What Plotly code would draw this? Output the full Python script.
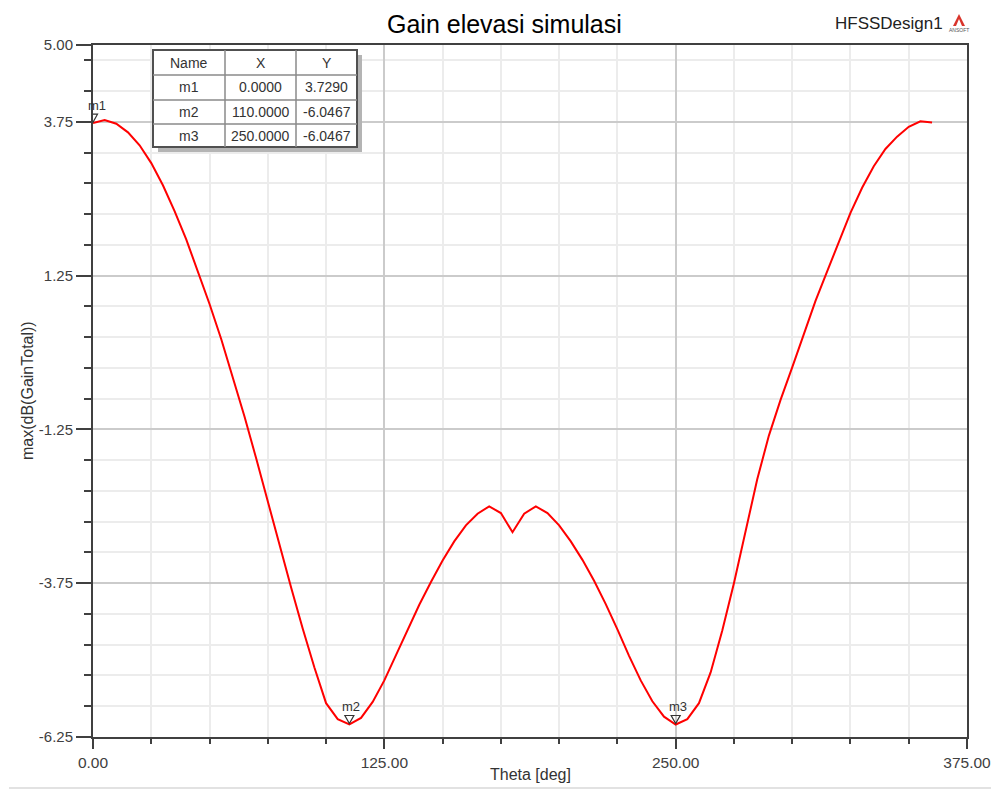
import plotly.graph_objects as go

# ---------------- data ----------------
theta_deg = list(range(0, 361, 5))
gain_db = [
    3.73, 3.78, 3.72, 3.58, 3.37, 3.08, 2.72, 2.30, 1.84, 1.33,          # 0..45
    0.79, 0.22, -0.39, -1.04, -1.72, -2.43, -3.13, -3.82, -4.49, -5.12,  # 50..95
    -5.70, -5.96, -6.0467, -5.94, -5.68, -5.33, -4.92, -4.50, -4.10, -3.73,  # 100..145
    -3.38, -3.07, -2.81, -2.62, -2.50, -2.61, -2.92, -2.62, -2.50, -2.61,  # 150..195
    -2.81, -3.07, -3.37, -3.71, -4.09, -4.50, -4.93, -5.33, -5.67, -5.92,  # 200..245
    -6.0467, -5.96, -5.70, -5.20, -4.52, -3.75, -2.92, -2.06, -1.35, -0.77,  # 250..295
    -0.24, 0.31, 0.84, 1.32, 1.79, 2.27, 2.68, 3.03, 3.31, 3.51,          # 300..345
    3.67, 3.76, 3.74,                                                      # 350..360
]

marker_names = ["m1", "m2", "m3"]
marker_x = [0.0, 110.0, 250.0]
marker_y = [3.7290, -6.0467, -6.0467]

x_tickvals = [0, 125, 250, 375]
x_ticktext = ["0.00", "125.00", "250.00", "375.00"]
y_tickvals = [-6.25, -3.75, -1.25, 1.25, 3.75, 5.00]
y_ticktext = ["-6.25", "-3.75", "-1.25", "1.25", "3.75", "5.00"]

title_text = "Gain elevasi simulasi"
design_text = "HFSSDesign1"
x_title = "Theta [deg]"
y_title = "max(dB(GainTotal))"

# ---------------- layout helpers (pixel -> paper) ----------------
W, H = 991, 790
L, R, T, B = 93, 967, 45, 737


def px(x):
    return (x - L) / (R - L)


def py(y):
    return (B - y) / (B - T)


FONT = "Liberation Sans, Arial, sans-serif"
AXC = "#404040"

fig = go.Figure()
fig.add_trace(go.Scatter(
    x=theta_deg, y=gain_db, mode="lines",
    line=dict(color="#ff0000", width=2),
    hoverinfo="x+y", showlegend=False,
))

shapes = []
annotations = []

# marker triangles + labels
for name, mx, my in zip(marker_names, marker_x, marker_y):
    shapes.append(dict(
        type="path", xref="x", yref="y", xsizemode="pixel", ysizemode="pixel",
        xanchor=mx, yanchor=my, path="M -4.5,9 L 4.5,9 L 0,1 Z",
        line=dict(color="#333333", width=1.2), fillcolor="rgba(0,0,0,0)",
    ))
    annotations.append(dict(
        x=mx, y=my, xref="x", yref="y", text=name, showarrow=False,
        yshift=18, xshift=4 if mx == 0 else 2,
        font=dict(family=FONT, size=13, color="#333333"),
    ))

# marker table
tx0, tx1, ty0, ty1 = 153, 357, 50, 147
col_edges = [153, 225, 296, 357]
row_edges = [50, 75, 100, 124, 147]
shapes.append(dict(type="rect", xref="paper", yref="paper",
                   x0=px(tx0 + 5), x1=px(tx1 + 5), y0=py(ty0 + 5), y1=py(ty1 + 5),
                   fillcolor="#b4b4b4", line=dict(width=0), layer="above"))
shapes.append(dict(type="rect", xref="paper", yref="paper",
                   x0=px(tx0), x1=px(tx1), y0=py(ty0), y1=py(ty1),
                   fillcolor="#ffffff", line=dict(color="#505050", width=2), layer="above"))
for cx in col_edges[1:-1]:
    shapes.append(dict(type="line", xref="paper", yref="paper",
                       x0=px(cx), x1=px(cx), y0=py(ty0), y1=py(ty1),
                       line=dict(color="#8a8a8a", width=1.5), layer="above"))
for ry in row_edges[1:-1]:
    shapes.append(dict(type="line", xref="paper", yref="paper",
                       x0=px(tx0), x1=px(tx1), y0=py(ry), y1=py(ry),
                       line=dict(color="#8a8a8a", width=1.5), layer="above"))

table_rows = [["Name", "X", "Y"]] + [
    [n, f"{x:.4f}", f"{y:.4f}"] for n, x, y in zip(marker_names, marker_x, marker_y)
]
for ri, row in enumerate(table_rows):
    cy = (row_edges[ri] + row_edges[ri + 1]) / 2
    for ci, cell in enumerate(row):
        cx = (col_edges[ci] + col_edges[ci + 1]) / 2
        annotations.append(dict(
            x=px(cx), y=py(cy), xref="paper", yref="paper", text=cell,
            showarrow=False, xanchor="center", yanchor="middle",
            font=dict(family=FONT, size=14, color="#333333"),
        ))

# titles
annotations.append(dict(x=px(504), y=py(24), xref="paper", yref="paper", text=title_text,
                        showarrow=False, xanchor="center", yanchor="middle",
                        font=dict(family=FONT, size=25, color="#000000")))
annotations.append(dict(x=px(833), y=py(23), xref="paper", yref="paper", text=design_text,
                        showarrow=False, xanchor="left", yanchor="middle",
                        font=dict(family=FONT, size=17, color="#222222")))
annotations.append(dict(x=px(530), y=py(774), xref="paper", yref="paper", text=x_title,
                        showarrow=False, xanchor="center", yanchor="middle",
                        font=dict(family=FONT, size=16, color="#333333")))
annotations.append(dict(x=px(27), y=py(391), xref="paper", yref="paper", text=y_title,
                        showarrow=False, xanchor="center", yanchor="middle", textangle=-90,
                        font=dict(family=FONT, size=16, color="#333333")))

# small logo
shapes.append(dict(type="path", xref="paper", yref="paper",
                   path=f"M {px(959)},{py(14)} L {px(953)},{py(26)} L {px(965)},{py(26)} Z",
                   fillcolor="#d9342b", line=dict(width=0)))
shapes.append(dict(type="path", xref="paper", yref="paper",
                   path=f"M {px(959)},{py(19)} L {px(956)},{py(26)} L {px(962)},{py(26)} Z",
                   fillcolor="#ffffff", line=dict(width=0)))
annotations.append(dict(x=px(959), y=py(30), xref="paper", yref="paper", text="ANSOFT",
                        showarrow=False, xanchor="center", yanchor="middle",
                        font=dict(family=FONT, size=5, color="#555555")))

# light screenshot border line at bottom
shapes.append(dict(type="line", xref="paper", yref="paper",
                   x0=px(9), x1=px(991), y0=py(788), y1=py(788),
                   line=dict(color="#e2e2e2", width=2)))

fig.update_layout(
    width=W, height=H,
    margin=dict(l=L, r=W - R, t=T, b=H - B, pad=0, autoexpand=False),
    paper_bgcolor="#ffffff", plot_bgcolor="#ffffff",
    showlegend=False,
    shapes=shapes, annotations=annotations,
    font=dict(family=FONT, size=15, color=AXC),
)
fig.update_xaxes(
    range=[0, 375], tickmode="array", tickvals=x_tickvals, ticktext=x_ticktext,
    automargin=False, ticklabeloverflow="allow",
    ticks="outside", ticklen=10, tickwidth=2, tickcolor=AXC,
    showline=True, linecolor=AXC, linewidth=2, mirror=True,
    showgrid=True, gridcolor="#cbcbcb", gridwidth=2, zeroline=False,
    tickfont=dict(family=FONT, size=15.5, color="#404040"),
    minor=dict(tick0=0, dtick=25, ticks="outside", ticklen=5, tickwidth=2, tickcolor=AXC,
               showgrid=True, gridcolor="#ececec", gridwidth=2),
)
fig.update_yaxes(
    range=[-6.25, 5.0], tickmode="array", tickvals=y_tickvals, ticktext=y_ticktext,
    automargin=False, ticklabeloverflow="allow",
    ticks="outside", ticklen=15, tickwidth=2, tickcolor=AXC,
    showline=True, linecolor=AXC, linewidth=2, mirror=True,
    showgrid=True, gridcolor="#cbcbcb", gridwidth=2, zeroline=False,
    tickfont=dict(family=FONT, size=15, color="#404040"),
    minor=dict(tick0=-6.25, dtick=0.5, ticks="outside", ticklen=7, tickwidth=2, tickcolor=AXC,
               showgrid=True, gridcolor="#ececec", gridwidth=2),
)

fig.write_html("out.html")
